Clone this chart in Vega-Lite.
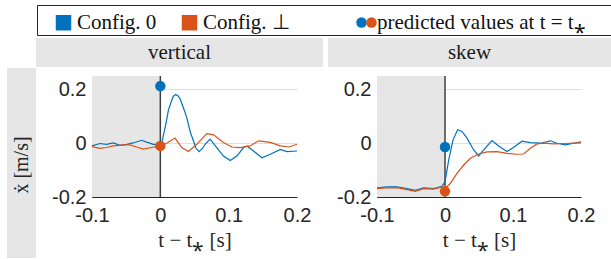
{
  "$schema": "https://vega.github.io/schema/vega-lite/v6.json",
  "padding": {"left": 7, "top": 4, "right": 0, "bottom": 0},
  "background": "white",
  "spacing": 1,
  "datasets": {
    "lines": [
      {"panel":"vertical","series":"Config. 0","t":-0.1,"v":-0.010},
      {"panel":"vertical","series":"Config. 0","t":-0.0885,"v":-0.001},
      {"panel":"vertical","series":"Config. 0","t":-0.0787,"v":-0.004},
      {"panel":"vertical","series":"Config. 0","t":-0.0689,"v":0.001},
      {"panel":"vertical","series":"Config. 0","t":-0.0592,"v":-0.008},
      {"panel":"vertical","series":"Config. 0","t":-0.0494,"v":-0.004},
      {"panel":"vertical","series":"Config. 0","t":-0.0396,"v":0.001},
      {"panel":"vertical","series":"Config. 0","t":-0.0274,"v":0.011},
      {"panel":"vertical","series":"Config. 0","t":-0.0200,"v":0.004},
      {"panel":"vertical","series":"Config. 0","t":-0.0103,"v":-0.004},
      {"panel":"vertical","series":"Config. 0","t":0.0,"v":-0.004},
      {"panel":"vertical","series":"Config. 0","t":0.002,"v":0.0},
      {"panel":"vertical","series":"Config. 0","t":0.008,"v":0.07},
      {"panel":"vertical","series":"Config. 0","t":0.0117,"v":0.121},
      {"panel":"vertical","series":"Config. 0","t":0.016,"v":0.155},
      {"panel":"vertical","series":"Config. 0","t":0.019,"v":0.175},
      {"panel":"vertical","series":"Config. 0","t":0.0225,"v":0.181},
      {"panel":"vertical","series":"Config. 0","t":0.026,"v":0.176},
      {"panel":"vertical","series":"Config. 0","t":0.0289,"v":0.165},
      {"panel":"vertical","series":"Config. 0","t":0.034,"v":0.13},
      {"panel":"vertical","series":"Config. 0","t":0.0386,"v":0.096},
      {"panel":"vertical","series":"Config. 0","t":0.044,"v":0.04},
      {"panel":"vertical","series":"Config. 0","t":0.0484,"v":0.009},
      {"panel":"vertical","series":"Config. 0","t":0.052,"v":-0.018},
      {"panel":"vertical","series":"Config. 0","t":0.0567,"v":-0.031},
      {"panel":"vertical","series":"Config. 0","t":0.062,"v":-0.018},
      {"panel":"vertical","series":"Config. 0","t":0.0655,"v":-0.004},
      {"panel":"vertical","series":"Config. 0","t":0.0729,"v":0.015},
      {"panel":"vertical","series":"Config. 0","t":0.0826,"v":-0.016},
      {"panel":"vertical","series":"Config. 0","t":0.0924,"v":-0.048},
      {"panel":"vertical","series":"Config. 0","t":0.1022,"v":-0.064},
      {"panel":"vertical","series":"Config. 0","t":0.1120,"v":-0.048},
      {"panel":"vertical","series":"Config. 0","t":0.1218,"v":-0.016},
      {"panel":"vertical","series":"Config. 0","t":0.1267,"v":-0.010},
      {"panel":"vertical","series":"Config. 0","t":0.1364,"v":-0.029},
      {"panel":"vertical","series":"Config. 0","t":0.1487,"v":-0.054},
      {"panel":"vertical","series":"Config. 0","t":0.1609,"v":-0.041},
      {"panel":"vertical","series":"Config. 0","t":0.1756,"v":-0.023},
      {"panel":"vertical","series":"Config. 0","t":0.1853,"v":-0.031},
      {"panel":"vertical","series":"Config. 0","t":0.2,"v":-0.029},
      {"panel":"vertical","series":"Config. ⊥","t":-0.1,"v":-0.0125},
      {"panel":"vertical","series":"Config. ⊥","t":-0.0885,"v":-0.019},
      {"panel":"vertical","series":"Config. ⊥","t":-0.0787,"v":-0.016},
      {"panel":"vertical","series":"Config. ⊥","t":-0.0689,"v":-0.010},
      {"panel":"vertical","series":"Config. ⊥","t":-0.0543,"v":-0.006},
      {"panel":"vertical","series":"Config. ⊥","t":-0.0445,"v":-0.006},
      {"panel":"vertical","series":"Config. ⊥","t":-0.0347,"v":-0.014},
      {"panel":"vertical","series":"Config. ⊥","t":-0.0249,"v":-0.022},
      {"panel":"vertical","series":"Config. ⊥","t":-0.0127,"v":-0.016},
      {"panel":"vertical","series":"Config. ⊥","t":0.0,"v":-0.010},
      {"panel":"vertical","series":"Config. ⊥","t":0.0093,"v":0.0},
      {"panel":"vertical","series":"Config. ⊥","t":0.0215,"v":0.019},
      {"panel":"vertical","series":"Config. ⊥","t":0.0313,"v":-0.016},
      {"panel":"vertical","series":"Config. ⊥","t":0.0411,"v":-0.031},
      {"panel":"vertical","series":"Config. ⊥","t":0.0533,"v":-0.004},
      {"panel":"vertical","series":"Config. ⊥","t":0.068,"v":0.036},
      {"panel":"vertical","series":"Config. ⊥","t":0.0778,"v":0.031},
      {"panel":"vertical","series":"Config. ⊥","t":0.0924,"v":0.003},
      {"panel":"vertical","series":"Config. ⊥","t":0.1046,"v":-0.014},
      {"panel":"vertical","series":"Config. ⊥","t":0.1169,"v":-0.016},
      {"panel":"vertical","series":"Config. ⊥","t":0.1315,"v":-0.010},
      {"panel":"vertical","series":"Config. ⊥","t":0.1438,"v":0.009},
      {"panel":"vertical","series":"Config. ⊥","t":0.1609,"v":0.003},
      {"panel":"vertical","series":"Config. ⊥","t":0.1756,"v":-0.010},
      {"panel":"vertical","series":"Config. ⊥","t":0.1878,"v":-0.014},
      {"panel":"vertical","series":"Config. ⊥","t":0.2,"v":-0.004},
      {"panel":"skew","series":"Config. 0","t":-0.1,"v":-0.166},
      {"panel":"skew","series":"Config. 0","t":-0.0853,"v":-0.1625},
      {"panel":"skew","series":"Config. 0","t":-0.0706,"v":-0.1625},
      {"panel":"skew","series":"Config. 0","t":-0.0559,"v":-0.169},
      {"panel":"skew","series":"Config. 0","t":-0.0436,"v":-0.175},
      {"panel":"skew","series":"Config. 0","t":-0.0314,"v":-0.166},
      {"panel":"skew","series":"Config. 0","t":-0.0167,"v":-0.169},
      {"panel":"skew","series":"Config. 0","t":-0.0044,"v":-0.160},
      {"panel":"skew","series":"Config. 0","t":0.0,"v":-0.144},
      {"panel":"skew","series":"Config. 0","t":0.0054,"v":-0.0625},
      {"panel":"skew","series":"Config. 0","t":0.0118,"v":0.0125},
      {"panel":"skew","series":"Config. 0","t":0.0186,"v":0.05},
      {"panel":"skew","series":"Config. 0","t":0.025,"v":0.044},
      {"panel":"skew","series":"Config. 0","t":0.0324,"v":0.019},
      {"panel":"skew","series":"Config. 0","t":0.0422,"v":-0.025},
      {"panel":"skew","series":"Config. 0","t":0.0495,"v":-0.0475},
      {"panel":"skew","series":"Config. 0","t":0.0569,"v":-0.025},
      {"panel":"skew","series":"Config. 0","t":0.0691,"v":0.010},
      {"panel":"skew","series":"Config. 0","t":0.0789,"v":-0.010},
      {"panel":"skew","series":"Config. 0","t":0.0912,"v":-0.031},
      {"panel":"skew","series":"Config. 0","t":0.101,"v":-0.015},
      {"panel":"skew","series":"Config. 0","t":0.1132,"v":0.0075},
      {"panel":"skew","series":"Config. 0","t":0.1255,"v":0.0025},
      {"panel":"skew","series":"Config. 0","t":0.1402,"v":0.0},
      {"panel":"skew","series":"Config. 0","t":0.1549,"v":0.009},
      {"panel":"skew","series":"Config. 0","t":0.1647,"v":0.0},
      {"panel":"skew","series":"Config. 0","t":0.177,"v":-0.006},
      {"panel":"skew","series":"Config. 0","t":0.1892,"v":0.0},
      {"panel":"skew","series":"Config. 0","t":0.2,"v":0.005},
      {"panel":"skew","series":"Config. ⊥","t":-0.1,"v":-0.169},
      {"panel":"skew","series":"Config. ⊥","t":-0.0877,"v":-0.166},
      {"panel":"skew","series":"Config. ⊥","t":-0.0706,"v":-0.165},
      {"panel":"skew","series":"Config. ⊥","t":-0.0559,"v":-0.1725},
      {"panel":"skew","series":"Config. ⊥","t":-0.0436,"v":-0.179},
      {"panel":"skew","series":"Config. ⊥","t":-0.0314,"v":-0.169},
      {"panel":"skew","series":"Config. ⊥","t":-0.0167,"v":-0.171},
      {"panel":"skew","series":"Config. ⊥","t":-0.0044,"v":-0.1625},
      {"panel":"skew","series":"Config. ⊥","t":0.0,"v":-0.169},
      {"panel":"skew","series":"Config. ⊥","t":0.0078,"v":-0.15},
      {"panel":"skew","series":"Config. ⊥","t":0.0176,"v":-0.1125},
      {"panel":"skew","series":"Config. ⊥","t":0.0275,"v":-0.081},
      {"panel":"skew","series":"Config. ⊥","t":0.0373,"v":-0.056},
      {"panel":"skew","series":"Config. ⊥","t":0.0495,"v":-0.040},
      {"panel":"skew","series":"Config. ⊥","t":0.0618,"v":-0.0325},
      {"panel":"skew","series":"Config. ⊥","t":0.0765,"v":-0.031},
      {"panel":"skew","series":"Config. ⊥","t":0.0912,"v":-0.0375},
      {"panel":"skew","series":"Config. ⊥","t":0.1059,"v":-0.041},
      {"panel":"skew","series":"Config. ⊥","t":0.1157,"v":-0.04},
      {"panel":"skew","series":"Config. ⊥","t":0.1255,"v":-0.019},
      {"panel":"skew","series":"Config. ⊥","t":0.1353,"v":-0.0025},
      {"panel":"skew","series":"Config. ⊥","t":0.1451,"v":0.0},
      {"panel":"skew","series":"Config. ⊥","t":0.1598,"v":-0.0025},
      {"panel":"skew","series":"Config. ⊥","t":0.1745,"v":-0.001},
      {"panel":"skew","series":"Config. ⊥","t":0.2,"v":0.001}
    ],
    "dots": [
      {"panel":"vertical","series":"Config. 0","t":0,"v":0.2125,"kind":"predicted values at t = t⁎","mark0":"dot"},
      {"panel":"vertical","series":"Config. ⊥","t":0,"v":-0.010,"kind":"predicted values at t = t⁎","mark0":"dot"},
      {"panel":"skew","series":"Config. 0","t":0,"v":-0.014,"kind":"predicted values at t = t⁎","mark0":"dot"},
      {"panel":"skew","series":"Config. ⊥","t":0,"v":-0.179,"kind":"predicted values at t = t⁎","mark0":"dot"}
    ]
  },
  "vconcat": [
    {
      "spacing": 0,
      "hconcat": [
        {"width": 29, "height": 32, "data": {"values": []}, "mark": "text", "view": {"stroke": null}},
        {"width": 575, "height": 30, "data": {"values": []}, "mark": "text", "view": {"stroke": "#262626", "strokeWidth": 1}}
      ]
    },
    {
      "spacing": 0,
      "hconcat": [
        {"width": 29, "height": 29, "data": {"values": []}, "mark": "text", "view": {"stroke": null}},
        {"width": 287, "height": 29, "data": {"values": [{"label": "vertical"}]},
         "mark": {"type": "text", "font": "'Liberation Serif', 'Times New Roman', Times, serif", "fontSize": 21, "color": "#1a1a1a"},
         "encoding": {"text": {"field": "label"}},
         "view": {"fill": "#e6e6e6", "stroke": null}},
        {"width": 5, "height": 29, "data": {"values": []}, "mark": "text", "view": {"stroke": null}},
        {"width": 283, "height": 29, "data": {"values": [{"label": "skew"}]},
         "mark": {"type": "text", "font": "'Liberation Serif', 'Times New Roman', Times, serif", "fontSize": 21, "color": "#1a1a1a"},
         "encoding": {"text": {"field": "label"}},
         "view": {"fill": "#e6e6e6", "stroke": null}}
      ]
    },
    {
      "spacing": 0,
      "center": true,
      "hconcat": [
        {"width": 29, "height": 190, "data": {"values": [{"label": "ẋ [m/s]"}]},
         "mark": {"type": "text", "angle": 270, "font": "'Liberation Serif', 'Times New Roman', Times, serif", "fontSize": 20, "color": "#262626", "dx": -2},
         "encoding": {"text": {"field": "label"}},
         "view": {"fill": "#e6e6e6", "stroke": null}},
        {
          "width": 205, "height": 121,
          "layer": [
            {"data": {"values": [{}]}, "mark": {"type": "rect", "color": "#e6e6e6"},
             "encoding": {"x": {"datum": -0.1, "type": "quantitative"}, "x2": {"datum": 0}}},
            {"data": {"values": [{}]}, "mark": {"type": "rule", "color": "#404040", "strokeWidth": 1.5},
             "encoding": {"x": {"datum": 0, "type": "quantitative"}}},
            {"data": {"name": "lines"}, "transform": [{"filter": "datum.panel === 'vertical'"}],
             "mark": {"type": "line", "strokeWidth": 1.2},
             "encoding": {
               "x": {"field": "t", "type": "quantitative", "scale": {"domain": [-0.1, 0.2], "nice": false},
                     "axis": {"values": [-0.1, 0, 0.1, 0.2], "title": "t − t⁎ [s]", "labelFlush": false, "labelOverlap": false,
                              "labelExpr": "datum.value === 0 ? '0' : (datum.value < 0 ? '-' : '') + format(abs(datum.value), '.1f')"}},
               "y": {"field": "v", "type": "quantitative", "scale": {"domain": [-0.2, 0.25], "nice": false},
                     "axis": {"values": [-0.2, 0, 0.2], "title": null, "minExtent": 56, "maxExtent": 56, "labelFlush": false, "labelOverlap": false, "labelPadding": 6,
                              "labelExpr": "datum.value === 0 ? '0' : (datum.value < 0 ? '-' : '') + format(abs(datum.value), '.1f')"}},
               "color": {"field": "series", "type": "nominal", "scale": {"domain": ["Config. 0", "Config. ⊥"], "range": ["#0072BD", "#D95319"]},
                         "legend": {"orient": "none", "legendX": 46, "legendY": 7, "direction": "horizontal", "title": null,
                                    "symbolType": "square", "symbolSize": 240, "labelOffset": 3, "columnPadding": 22,
                                    "labelFont": "'Liberation Serif', 'Times New Roman', Times, serif", "labelFontSize": 21, "labelColor": "#111111"}}
             }},
            {"data": {"name": "dots"}, "transform": [{"filter": "datum.panel === 'vertical'"}],
             "mark": {"type": "circle"},
             "encoding": {
               "x": {"field": "t", "type": "quantitative"},
               "y": {"field": "v", "type": "quantitative"},
               "color": {"field": "series", "type": "nominal"},
               "size": {"field": "mark0", "type": "nominal", "scale": {"range": [110, 110]},
                        "legend": {"orient": "none", "legendX": 349, "legendY": 12, "title": null, "labelExpr": "''", "labelOffset": 0,
                                   "symbolFillColor": "#0072BD"}},
               "opacity": {"field": "kind", "type": "nominal", "scale": {"range": [1, 1]},
                           "legend": {"orient": "none", "legendX": 354, "legendY": 7, "title": null, "labelLimit": 400,
                                      "symbolType": "circle", "symbolSize": 110, "labelOffset": -5, "symbolFillColor": "#D95319",
                                      "labelFont": "'Liberation Serif', 'Times New Roman', Times, serif", "labelFontSize": 21, "labelColor": "#111111"}}
             }}
          ]
        },
        {
          "width": 204, "height": 121,
          "layer": [
            {"data": {"values": [{}]}, "mark": {"type": "rect", "color": "#e6e6e6"},
             "encoding": {"x": {"datum": -0.1, "type": "quantitative"}, "x2": {"datum": 0}}},
            {"data": {"values": [{}]}, "mark": {"type": "rule", "color": "#404040", "strokeWidth": 1.5},
             "encoding": {"x": {"datum": 0, "type": "quantitative"}}},
            {"data": {"name": "lines"}, "transform": [{"filter": "datum.panel === 'skew'"}],
             "mark": {"type": "line", "strokeWidth": 1.2},
             "encoding": {
               "x": {"field": "t", "type": "quantitative", "scale": {"domain": [-0.1, 0.2], "nice": false},
                     "axis": {"values": [-0.1, 0, 0.1, 0.2], "title": "t − t⁎ [s]", "labelFlush": false, "labelOverlap": false,
                              "labelExpr": "datum.value === 0 ? '0' : (datum.value < 0 ? '-' : '') + format(abs(datum.value), '.1f')"}},
               "y": {"field": "v", "type": "quantitative", "scale": {"domain": [-0.2, 0.25], "nice": false},
                     "axis": {"values": [-0.2, 0, 0.2], "title": null, "minExtent": 66, "maxExtent": 66, "labelFlush": false, "labelOverlap": false, "labelPadding": 6,
                              "labelExpr": "datum.value === 0 ? '0' : (datum.value < 0 ? '-' : '') + format(abs(datum.value), '.1f')"}},
               "color": {"field": "series", "type": "nominal"}
             }},
            {"data": {"name": "dots"}, "transform": [{"filter": "datum.panel === 'skew'"}],
             "mark": {"type": "circle"},
             "encoding": {
               "x": {"field": "t", "type": "quantitative"},
               "y": {"field": "v", "type": "quantitative"},
               "color": {"field": "series", "type": "nominal"},
               "size": {"field": "mark0", "type": "nominal"},
               "opacity": {"field": "kind", "type": "nominal"}
             }}
          ]
        }
      ]
    }
  ],
  "config": {
    "view": {"stroke": null},
    "legend": {"symbolFillColor": "#D95319", "symbolOpacity": 1, "symbolStrokeWidth": 0, "symbolStrokeColor": "transparent"},
    "axis": {
      "domainColor": "#262626", "domainWidth": 1,
      "gridColor": "#dfdfdf", "gridWidth": 1,
      "ticks": false,
      "labelColor": "#262626", "labelFont": "'Liberation Sans', Arial, Helvetica, sans-serif", "labelFontSize": 20,
      "titleColor": "#262626", "titleFont": "'Liberation Serif', 'Times New Roman', Times, serif", "titleFontSize": 21, "titleFontWeight": "normal"
    },
    "axisX": {"labelPadding": 8, "titlePadding": 4}
  }
}
